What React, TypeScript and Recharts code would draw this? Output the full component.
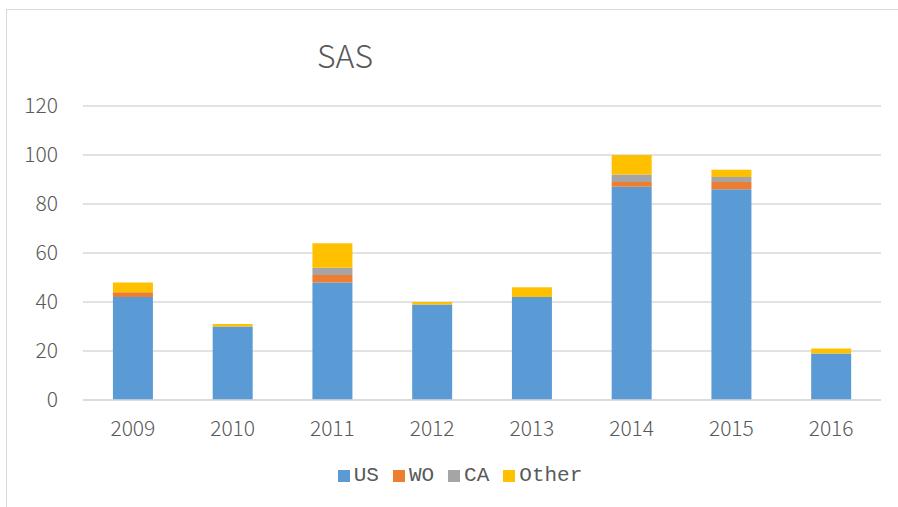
import React from "react";
import { BarChart, Bar, XAxis, YAxis, CartesianGrid, Legend } from "recharts";

const years = ["2009", "2010", "2011", "2012", "2013", "2014", "2015", "2016"];
const us = [42, 30, 48, 39, 42, 87, 86, 19];
const wo = [2, 0, 3, 0, 0, 2, 3, 0];
const ca = [0, 0, 3, 0, 0, 3, 2, 0];
const other = [4, 1, 10, 1, 4, 8, 3, 2];
const yTicks = [0, 20, 40, 60, 80, 100, 120];
const seriesNames = ["US", "WO", "CA", "Other"];
const seriesColors = ["#5B9BD5", "#ED7D31", "#A5A5A5", "#FFC000"];

const data = years.map((y, i) => ({ year: y, US: us[i], WO: wo[i], CA: ca[i], Other: other[i] }));

const FONT = "'Noto Sans CJK JP', 'DejaVu Sans', sans-serif";

const LegendContent = () => (
  <div style={{ display: "flex", justifyContent: "center", alignItems: "center", paddingTop: 14, paddingLeft: 30, fontFamily: "'Liberation Mono', monospace", fontSize: 21, color: "#595959" }}>
    {seriesNames.map((n, i) => (
      <div key={n} style={{ display: "flex", alignItems: "center", marginRight: 14 }}>
        <span style={{ display: "inline-block", width: 12, height: 12, background: seriesColors[i], marginRight: 4 }} />
        <span>{n}</span>
      </div>
    ))}
  </div>
);

export default function App() {
  return (
    <div style={{ position: "absolute", left: 0, top: 0, width: 898, height: 507, background: "#fff", overflow: "hidden" }}>
      <div style={{ position: "absolute", left: 6, top: 9, width: 900, height: 510, border: "1px solid #d9d9d9" }} />
      <div style={{ position: "absolute", left: 295, top: 30, width: 100, textAlign: "center", fontFamily: FONT, fontSize: 32, fontWeight: 300, color: "#595959", lineHeight: "48px" }}>SAS</div>
      <div style={{ position: "absolute", left: 0, top: 0 }}>
        <BarChart width={898} height={507} data={data} margin={{ top: 106, right: 17, left: 23, bottom: 0 }} barCategoryGap="30%">
          <CartesianGrid vertical={false} stroke="#d9d9d9" strokeWidth={1.5} />
          <XAxis dataKey="year" axisLine={{ stroke: "#d9d9d9", strokeWidth: 1.5 }} tickLine={false} tickMargin={15} height={50} tick={{ fill: "#595959", fontSize: 21, fontFamily: FONT, fontWeight: 300 }} />
          <YAxis domain={[0, 120]} ticks={yTicks} width={60} axisLine={false} tickLine={false} tickMargin={19} tick={{ fill: "#595959", fontSize: 21, fontFamily: FONT, fontWeight: 300 }} />
          <Legend verticalAlign="bottom" height={57} content={<LegendContent />} />
          <Bar dataKey="US" stackId="a" fill={seriesColors[0]} isAnimationActive={false} />
          <Bar dataKey="WO" stackId="a" fill={seriesColors[1]} isAnimationActive={false} />
          <Bar dataKey="CA" stackId="a" fill={seriesColors[2]} isAnimationActive={false} />
          <Bar dataKey="Other" stackId="a" fill={seriesColors[3]} isAnimationActive={false} />
        </BarChart>
      </div>
    </div>
  );
}
